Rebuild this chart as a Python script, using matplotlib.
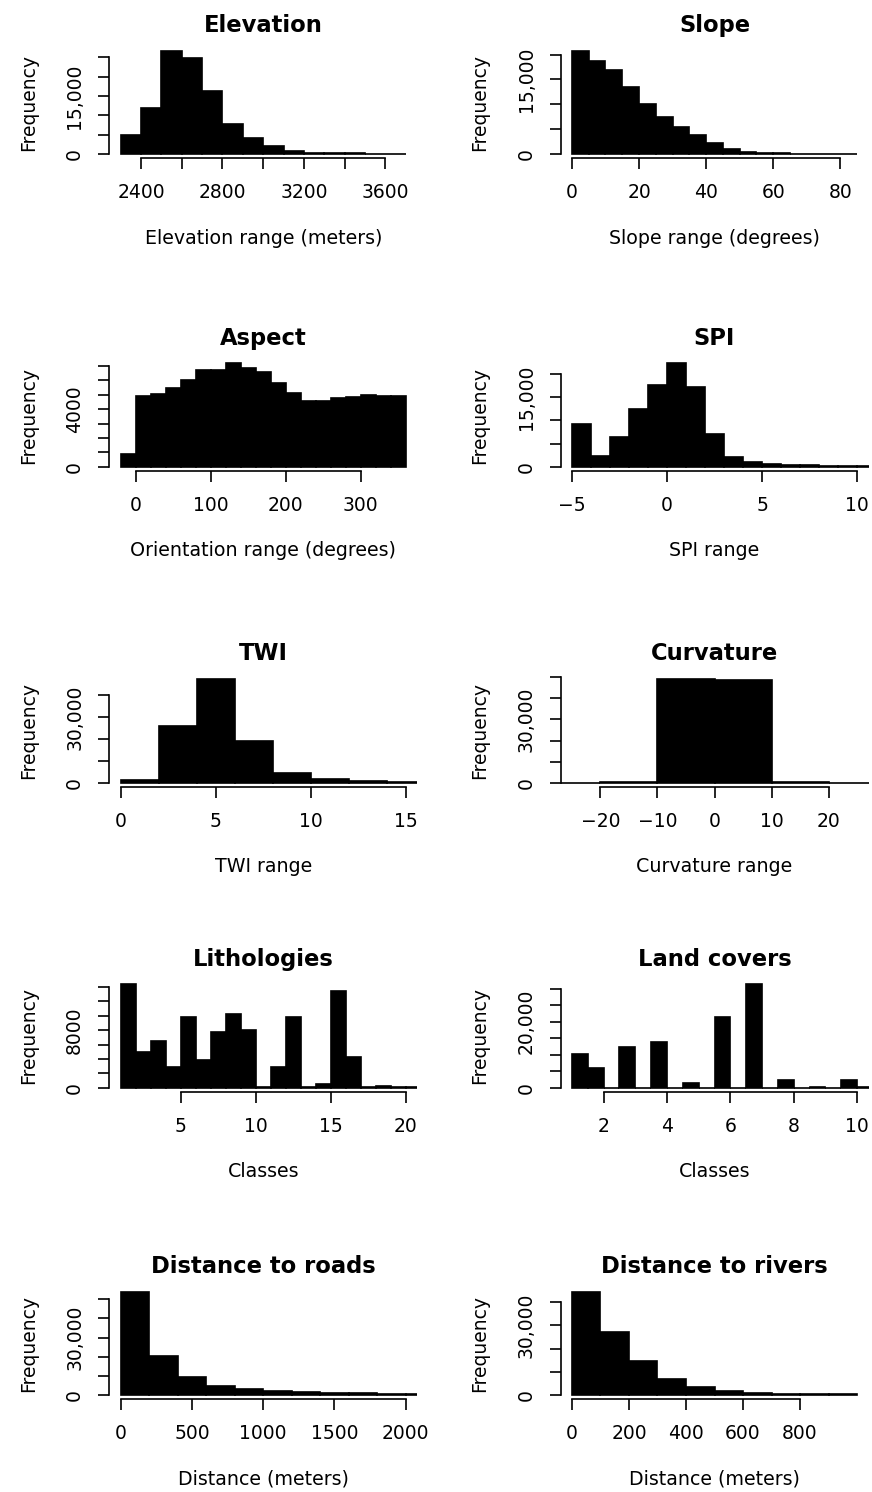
import numpy as np
import matplotlib
matplotlib.use("Agg")
import matplotlib.pyplot as plt

plt.rcParams['font.family'] = ['DejaVu Sans']

# ---------------- data ----------------
titles = ["Elevation", "Slope", "Aspect", "SPI", "TWI", "Curvature",
          "Lithologies", "Land covers", "Distance to roads", "Distance to rivers"]
xlabels = ["Elevation range (meters)", "Slope range (degrees)",
           "Orientation range (degrees)", "SPI range", "TWI range",
           "Curvature range", "Classes", "Classes",
           "Distance (meters)", "Distance (meters)"]

# histogram bins: first break, bin width, counts
elev_start, elev_width = 2300, 100
elev_counts = [4900, 12000, 26700, 24700, 16300, 7760, 4220, 2150, 860, 350,
               200, 150, 100, 60]

slope_start, slope_width = 0, 5
slope_counts = [20800, 18800, 17000, 13470, 10130, 7470, 5470, 3870, 2130, 1000,
                470, 250, 150, 80, 40, 20, 10]

aspect_start, aspect_width = -20, 20
aspect_counts = [870, 4890, 5060, 5460, 6000, 6750, 6750, 7180, 6870, 6590,
                 5810, 5110, 4590, 4540, 4780, 4820, 5010, 4890, 4940]

spi_start, spi_width = -5, 1
spi_counts = [9280, 2250, 6380, 12390, 17600, 22300, 17250, 7100, 2170, 940,
              580, 430, 300, 200, 150, 100]

twi_start, twi_width = 0, 2
twi_counts = [1220, 25650, 47300, 18800, 4580, 1830, 760, 300]

curv_start, curv_width = -30, 10
curv_counts = [0, 480, 49200, 48700, 480, 0]

lith_start, lith_width = 1, 1
lith_counts = [14420, 5020, 6510, 2930, 9810, 3860, 7720, 10280, 8050, 100,
               2930, 9770, 50, 470, 13490, 4330, 30, 230, 30, 30]

land_start, land_width = 1, 0.5
land_counts = [10060, 5840, 0, 12370, 0, 13880, 0, 1500, 0, 21430,
               0, 31390, 0, 2310, 0, 300, 0, 2310, 30]

roads_start, roads_width = 0, 200
roads_counts = [53970, 20340, 9660, 4830, 2930, 1900, 1380, 1030, 860, 690, 500]

rivers_start, rivers_width = 0, 100
rivers_counts = [44520, 27170, 14650, 6830, 3270, 1600, 900, 600, 400, 250]

# plotted x ranges (before R-style 4% padding)
x_ranges = [(2300, 3700), (0, 85), (-20, 360), (-5, 10), (0, 15), (-25, 25),
            (1, 20), (1, 10), (0, 2000), (0, 1000)]

# axis ticks and labels ('' = tick without label)
elev_xticks = [2400, 2600, 2800, 3000, 3200, 3400, 3600]
elev_xlabels = ["2400", "", "2800", "", "3200", "", "3600"]
elev_yticks = [0, 5000, 10000, 15000, 20000, 25000]
elev_ylabels = ["0", "", "", "15,000", "", ""]

slope_xticks = [0, 20, 40, 60, 80]
slope_xlabels = ["0", "20", "40", "60", "80"]
slope_yticks = [0, 5000, 10000, 15000, 20000]
slope_ylabels = ["0", "", "", "15,000", ""]

aspect_xticks = [0, 100, 200, 300]
aspect_xlabels = ["0", "100", "200", "300"]
aspect_yticks = [0, 1000, 2000, 3000, 4000, 5000, 6000, 7000]
aspect_ylabels = ["0", "", "", "", "4000", "", "", ""]

spi_xticks = [-5, 0, 5, 10]
spi_xlabels = ["\u22125", "0", "5", "10"]
spi_yticks = [0, 5000, 10000, 15000, 20000]
spi_ylabels = ["0", "", "", "15,000", ""]

twi_xticks = [0, 5, 10, 15]
twi_xlabels = ["0", "5", "10", "15"]
twi_yticks = [0, 10000, 20000, 30000, 40000]
twi_ylabels = ["0", "", "", "30,000", ""]

curv_xticks = [-20, -10, 0, 10, 20]
curv_xlabels = ["\u221220", "\u221210", "0", "10", "20"]
curv_yticks = [0, 10000, 20000, 30000, 40000, 50000]
curv_ylabels = ["0", "", "", "30,000", "", ""]

lith_xticks = [5, 10, 15, 20]
lith_xlabels = ["5", "10", "15", "20"]
lith_yticks = [0, 2000, 4000, 6000, 8000, 10000, 12000, 14000]
lith_ylabels = ["0", "", "", "", "8000", "", "", ""]

land_xticks = [2, 4, 6, 8, 10]
land_xlabels = ["2", "4", "6", "8", "10"]
land_yticks = [0, 5000, 10000, 15000, 20000, 25000, 30000]
land_ylabels = ["0", "", "", "", "20,000", "", ""]

roads_xticks = [0, 500, 1000, 1500, 2000]
roads_xlabels = ["0", "500", "1000", "1500", "2000"]
roads_yticks = [0, 10000, 20000, 30000, 40000, 50000]
roads_ylabels = ["0", "", "", "30,000", "", ""]

rivers_xticks = [0, 200, 400, 600, 800]
rivers_xlabels = ["0", "200", "400", "600", "800"]
rivers_yticks = [0, 10000, 20000, 30000, 40000]
rivers_ylabels = ["0", "", "", "30,000", ""]

hist_specs = [
    (elev_start, elev_width, elev_counts, elev_xticks, elev_xlabels, elev_yticks, elev_ylabels),
    (slope_start, slope_width, slope_counts, slope_xticks, slope_xlabels, slope_yticks, slope_ylabels),
    (aspect_start, aspect_width, aspect_counts, aspect_xticks, aspect_xlabels, aspect_yticks, aspect_ylabels),
    (spi_start, spi_width, spi_counts, spi_xticks, spi_xlabels, spi_yticks, spi_ylabels),
    (twi_start, twi_width, twi_counts, twi_xticks, twi_xlabels, twi_yticks, twi_ylabels),
    (curv_start, curv_width, curv_counts, curv_xticks, curv_xlabels, curv_yticks, curv_ylabels),
    (lith_start, lith_width, lith_counts, lith_xticks, lith_xlabels, lith_yticks, lith_ylabels),
    (land_start, land_width, land_counts, land_xticks, land_xlabels, land_yticks, land_ylabels),
    (roads_start, roads_width, roads_counts, roads_xticks, roads_xlabels, roads_yticks, roads_ylabels),
    (rivers_start, rivers_width, rivers_counts, rivers_xticks, rivers_xlabels, rivers_yticks, rivers_ylabels),
]

# ---------------- layout ----------------
W, H = 872, 1492
fig = plt.figure(figsize=(W / 100, H / 100), dpi=100)
fig.patch.set_facecolor('white')

row_tops = [46.5, 359.2, 675.0, 980.0, 1287.5]
col_lefts = [109.2, 560.5]
box_w, box_h = 308.0, 111.7

for i, (start, width, counts, xt, xtl, yt, ytl) in enumerate(hist_specs):
    r, c = divmod(i, 2)
    left, top = col_lefts[c], row_tops[r]
    ax = fig.add_axes([left / W, 1 - (top + box_h) / H, box_w / W, box_h / H])
    ax.patch.set_alpha(0)

    counts = np.asarray(counts, dtype=float)
    edges = start + width * np.arange(len(counts) + 1)
    ax.bar(edges[:-1], counts, width=width, align='edge',
           color='black', edgecolor='black', linewidth=1.2)

    a, b = x_ranges[i]
    pad = 0.04 * (b - a)
    ax.set_xlim(a - pad, b + pad)
    M = counts.max()
    ax.set_ylim(-0.04 * M, 1.04 * M)

    ax.set_xticks(xt)
    ax.set_xticklabels(xtl)
    ax.set_yticks(yt)
    ax.set_yticklabels(ytl, rotation=90, va='center')

    for s in ['top', 'right']:
        ax.spines[s].set_visible(False)
    ax.spines['left'].set_bounds(yt[0], yt[-1])
    ax.spines['bottom'].set_bounds(xt[0], xt[-1])
    for s in ['left', 'bottom']:
        ax.spines[s].set_linewidth(1.2)
    ax.tick_params(direction='out', length=8, width=1.2, labelsize=13.5,
                   pad=10, colors='black')

    cx = left + box_w / 2
    fig.text(cx / W, 1 - (top - 21) / H, titles[i], ha='center', va='center',
             fontsize=16.3, fontweight='bold')
    fig.text(cx / W, 1 - (top + box_h + 80) / H, xlabels[i], ha='center',
             va='center', fontsize=13.7)
    fig.text((left - 81) / W, 1 - (top + box_h / 2) / H, "Frequency",
             ha='center', va='center', rotation=90, fontsize=13.5)

fig.savefig("out.png", dpi=100, facecolor='white')
